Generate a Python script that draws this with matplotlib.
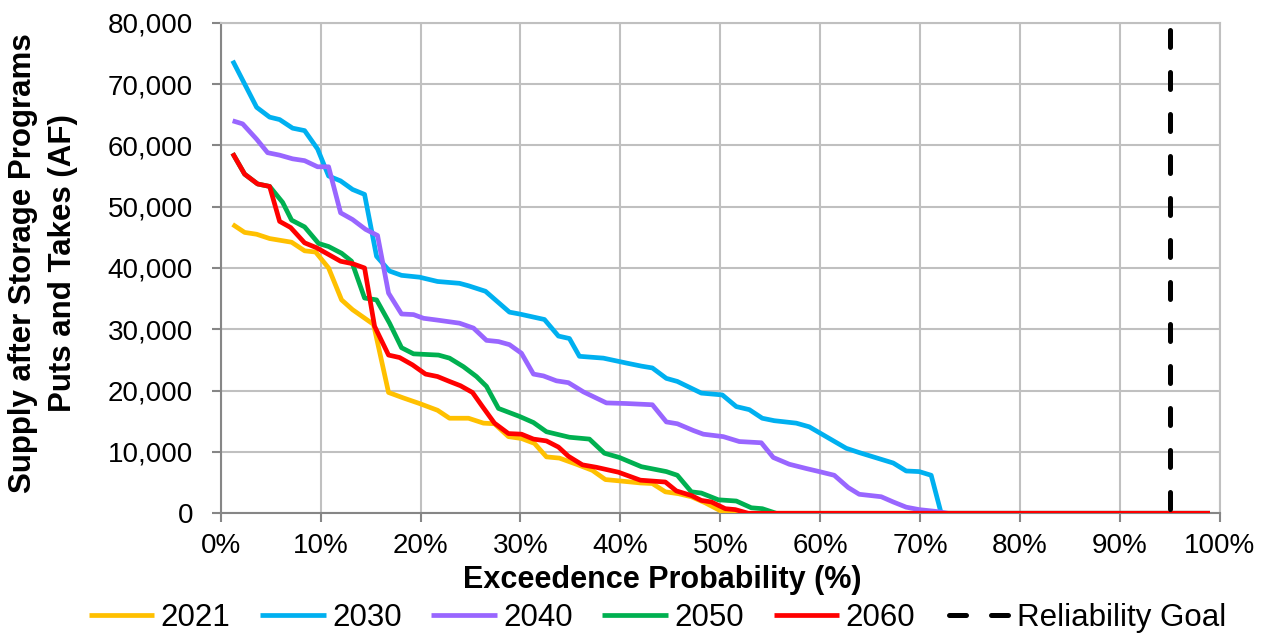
import matplotlib
matplotlib.use("Agg")
import matplotlib.pyplot as plt
from matplotlib.ticker import FuncFormatter, MultipleLocator

plt.rcParams['font.family'] = ['Liberation Sans', 'DejaVu Sans']

# ---- data (exceedence probability %, supply AF) ----
x_2021 = [1.2, 2.4, 3.6, 4.9, 7.1, 8.4, 9.5, 10.8, 12.1, 13.2, 15.3, 16.8, 18.3, 19.9,
          21.7, 22.9, 24.8, 26.3, 27.4, 28.8, 30.1, 31.4, 32.6, 33.9, 35.6, 37.2, 38.5,
          39.8, 42.0, 43.2, 44.5, 45.8, 47.1, 48.5, 50.5, 99.0]
y_2021 = [47100, 45800, 45500, 44800, 44200, 42800, 42600, 40000, 34800, 33200, 30800,
          19700, 18800, 17900, 16800, 15500, 15500, 14700, 14600, 12500, 12200, 11400,
          9200, 9000, 8000, 7000, 5500, 5300, 4950, 4850, 3500, 3200, 2700, 1700, 0, 0]

x_2030 = [1.2, 3.6, 4.9, 5.9, 7.2, 8.4, 9.7, 10.8, 12.0, 13.2, 14.4, 15.6, 16.9, 18.1,
          19.9, 21.7, 23.9, 24.8, 26.5, 28.9, 29.9, 32.4, 33.8, 34.9, 35.9, 38.3, 40.6,
          42.1, 43.2, 44.6, 45.7, 48.1, 50.2, 51.6, 52.9, 54.2, 55.4, 57.6, 58.9, 62.6,
          63.9, 67.3, 68.6, 69.9, 71.1, 72.1, 99.0]
y_2030 = [73800, 66200, 64600, 64200, 62800, 62400, 59400, 55000, 54200, 52800, 52000,
          41900, 39500, 38800, 38500, 37800, 37500, 37100, 36200, 32800, 32500, 31600,
          28900, 28500, 25600, 25300, 24500, 24000, 23700, 22000, 21500, 19600, 19300,
          17400, 16900, 15500, 15100, 14700, 14100, 10600, 9900, 8200, 6900, 6800, 6200,
          0, 0]

x_2040 = [1.2, 2.2, 3.6, 4.7, 5.9, 7.2, 8.4, 9.7, 10.8, 12.0, 13.2, 14.5, 15.7, 16.8,
          18.1, 19.3, 20.3, 21.7, 23.9, 25.3, 26.6, 27.8, 28.9, 30.1, 31.3, 32.3, 33.6,
          34.8, 36.3, 38.6, 40.6, 43.2, 44.6, 45.7, 47.3, 48.3, 50.3, 51.9, 54.1, 55.3,
          56.9, 58.6, 59.9, 61.4, 62.8, 63.9, 66.1, 67.3, 68.6, 69.9, 71.6, 72.8, 99.0]
y_2040 = [64000, 63500, 61000, 58800, 58400, 57800, 57500, 56500, 56500, 49000, 47900,
          46300, 45300, 35900, 32500, 32400, 31800, 31500, 31000, 30200, 28200, 28000,
          27500, 26100, 22700, 22400, 21600, 21300, 19800, 18000, 17900, 17700, 14900,
          14600, 13500, 12900, 12500, 11700, 11500, 9100, 8000, 7300, 6800, 6200, 4200,
          3100, 2700, 1850, 1000, 600, 300, 0, 0]

x_2050 = [1.2, 2.4, 3.7, 4.9, 6.2, 7.1, 8.4, 9.8, 10.8, 12.1, 13.1, 14.4, 15.6, 16.9,
          18.1, 19.3, 21.8, 22.9, 24.3, 25.6, 26.6, 27.8, 29.9, 31.3, 32.6, 34.9, 36.9,
          38.4, 39.9, 42.1, 44.6, 45.7, 47.1, 48.1, 49.8, 51.6, 53.1, 54.2, 55.6, 99.0]
y_2050 = [58700, 55300, 53700, 53300, 50700, 47800, 46700, 44000, 43500, 42400, 41100,
          35100, 34800, 31000, 27000, 26000, 25800, 25300, 23900, 22300, 20700, 17100,
          15800, 14800, 13300, 12400, 12100, 9800, 9100, 7600, 6800, 6200, 3500, 3300,
          2200, 2000, 900, 750, 0, 0]

x_2060 = [1.2, 2.4, 3.7, 4.9, 5.9, 7.0, 8.4, 9.6, 12.0, 13.2, 14.4, 15.4, 16.8, 17.9,
          19.2, 20.5, 21.7, 22.9, 24.0, 25.2, 26.2, 27.4, 28.8, 30.1, 31.3, 32.6, 33.8,
          34.8, 36.2, 37.6, 39.8, 42.0, 44.5, 45.6, 47.1, 48.1, 49.1, 50.5, 51.5, 52.8,
          99.0]
y_2060 = [58700, 55300, 53700, 53300, 47600, 46600, 44100, 43300, 41100, 40700, 40000,
          30500, 25800, 25400, 24200, 22700, 22300, 21500, 20800, 19700, 17400, 14700,
          13000, 12900, 12100, 11800, 10800, 9300, 7900, 7500, 6700, 5400, 5100, 3650,
          2900, 2100, 1850, 750, 600, 0, 0]

goal_x = 95
series_names = ['2021', '2030', '2040', '2050', '2060']
goal_name = 'Reliability Goal'

# ---- figure ----
fig = plt.figure(figsize=(12.74, 6.37), dpi=100)
ax = fig.add_axes([0.1732, 0.1942, 0.7844, 0.7702])

colors = ['#FFC000', '#00B0F0', '#9966FF', '#00B050', '#FF0000']
xs = [x_2021, x_2030, x_2040, x_2050, x_2060]
ys = [y_2021, y_2030, y_2040, y_2050, y_2060]
for xv, yv, c, n in zip(xs, ys, colors, series_names):
    ax.plot(xv, yv, color=c, lw=3.4, label=n, solid_joinstyle='round',
            solid_capstyle='butt', zorder=3)

ax.plot([goal_x, goal_x], [0, 80000], color='black', lw=3.6,
        linestyle=(7.6, (3.4, 5.0)), dash_capstyle='round', label=goal_name,
        zorder=4, clip_on=False)

ax.set_xlim(0, 100)
ax.set_ylim(0, 80000)
ax.xaxis.set_major_locator(MultipleLocator(10))
ax.yaxis.set_major_locator(MultipleLocator(10000))
ax.xaxis.set_major_formatter(FuncFormatter(lambda v, p: f"{int(round(v))}%"))
ax.yaxis.set_major_formatter(FuncFormatter(lambda v, p: f"{int(round(v)):,}"))

ax.grid(True, color='#C0C0C0', lw=1.5, zorder=0)
ax.set_axisbelow(True)
for side in ['top', 'right']:
    ax.spines[side].set_color('#C0C0C0')
    ax.spines[side].set_linewidth(1.5)
for side in ['left', 'bottom']:
    ax.spines[side].set_color('#868686')
    ax.spines[side].set_linewidth(1.5)

ax.tick_params(axis='both', direction='out', length=6.5, width=1.5,
               color='#868686', labelsize=20, labelcolor='black')
ax.tick_params(axis='y', pad=13.5)
ax.tick_params(axis='x', pad=8)

fig.text(662 / 1274, 1 - 588 / 637, 'Exceedence Probability (%)', fontsize=22,
         fontweight='bold', ha='center', va='baseline')
fig.text(43 / 1274, 0.587, 'Supply after Storage Programs\nPuts and Takes (AF)',
         fontsize=22.5, fontweight='bold', rotation=90, ha='center', va='center',
         multialignment='center', linespacing=1.4)

leg = fig.legend(loc='center', bbox_to_anchor=(0.516, 1 - 618 / 637), ncol=6,
                 frameon=False, fontsize=22.5, handlelength=2.1, handletextpad=0.2,
                 columnspacing=0.95, borderaxespad=0, borderpad=0)

fig.savefig('out.png', dpi=100)
